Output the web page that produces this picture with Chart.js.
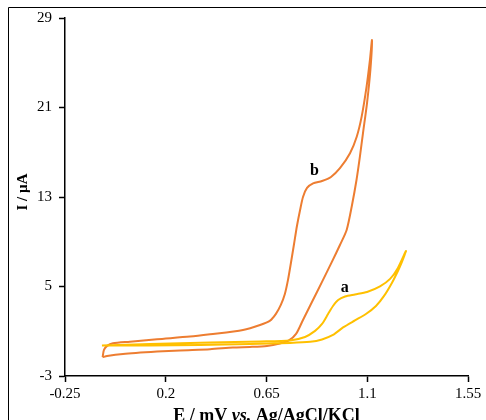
<!DOCTYPE html>
<html>
<head>
<meta charset="utf-8">
<script src="https://cdn.jsdelivr.net/npm/chart.js@4.4.3/dist/chart.umd.min.js"></script>
<style>
  html, body { margin: 0; padding: 0; background: #fff; }
  canvas { display: block; }
</style>
</head>
<body>
<canvas id="cv" width="486" height="420"></canvas>
<script>
// tick positions and labels
const xTickValues = [-0.25, 0.2, 0.65, 1.1, 1.55];
const xTickLabels = ["-0.25", "0.2", "0.65", "1.1", "1.55"];
const yTickValues = [-3, 5, 13, 21, 29];
const yTickLabels = ["-3", "5", "13", "21", "29"];

// curve a (yellow): forward scan then reverse scan, E in V, I in µA
const aPotential = [-0.085, 0.130, 0.398, 0.621, 0.755, 0.822, 0.867, 0.898, 0.925, 0.947, 0.970, 1.001, 1.045, 1.099, 1.157, 1.202, 1.237, 1.273,
  1.255, 1.237, 1.210, 1.175, 1.139, 1.094, 1.045, 0.992, 0.947, 0.898, 0.845, 0.755, 0.576, 0.353, 0.130, -0.085];
const aCurrent = [-0.27, -0.13, 0.0, 0.09, 0.18, 0.49, 1.03, 1.65, 2.54, 3.26, 3.8, 4.11, 4.29, 4.51, 5.01, 5.68, 6.66, 8.18,
  7.2, 6.39, 5.32, 4.16, 3.26, 2.54, 1.97, 1.34, 0.67, 0.27, 0.06, -0.04, -0.13, -0.22, -0.27, -0.27];

// curve b (orange)
const bPotential = [-0.082, -0.076, -0.062, -0.036, 0.040, 0.161, 0.308, 0.398, 0.545, 0.621, 0.666, 0.692, 0.714, 0.732, 0.746, 0.759, 0.773, 0.786, 0.800, 0.813, 0.831, 0.858, 0.898, 0.938, 0.978, 1.023, 1.053, 1.075, 1.097, 1.112, 1.121,
  1.114, 1.099, 1.081, 1.067, 1.052, 1.032, 1.008, 0.978, 0.942, 0.898, 0.853, 0.813, 0.782, 0.750, 0.710, 0.652, 0.576, 0.500, 0.398, 0.264, 0.161, 0.009, -0.062, -0.082];
const bCurrent = [-1.32, -0.67, -0.31, -0.07, 0.07, 0.29, 0.52, 0.73, 1.12, 1.56, 1.95, 2.55, 3.35, 4.33, 5.59, 7.1, 8.8, 10.41, 11.84, 13.0, 13.81, 14.21, 14.43, 14.79, 15.57, 16.91, 18.39, 20.18, 22.86, 25.25, 27.03,
  24.35, 21.4, 18.72, 16.58, 14.52, 12.29, 10.05, 8.71, 7.2, 5.41, 3.62, 2.01, 0.76, 0.18, -0.09, -0.31, -0.40, -0.45, -0.61, -0.71, -0.82, -1.03, -1.21, -1.32];

// curve labels: text, E, I
const curveLabels = [["a", 1.0, 4.92], ["b", 0.864, 15.37]];

const toPoints = (xs, ys) => xs.map((x, i) => ({ x: x, y: ys[i] }));

const serif = '"Liberation Serif", "Times New Roman", serif';

const overlay = {
  id: "overlay",
  afterDraw(chart) {
    const ctx = chart.ctx;
    const { left, right } = chart.chartArea;
    ctx.save();
    // outer frame (top and left edges visible)
    ctx.strokeStyle = "#000";
    ctx.lineWidth = 1;
    ctx.beginPath();
    ctx.moveTo(8.5, 420);
    ctx.lineTo(8.5, 7.5);
    ctx.lineTo(486, 7.5);
    ctx.stroke();

    ctx.fillStyle = "#000";
    // curve labels
    ctx.font = "bold 16px " + serif;
    ctx.textAlign = "center";
    ctx.textBaseline = "middle";
    curveLabels.forEach(([t, e, i]) => {
      ctx.fillText(t, chart.scales.x.getPixelForValue(e), chart.scales.y.getPixelForValue(i));
    });

    // y title
    ctx.save();
    ctx.translate(23, 192);
    ctx.rotate(-Math.PI / 2);
    ctx.font = "bold 15px " + serif;
    ctx.fillText("I / µA", 0, 0);
    ctx.restore();

    // x title with italic "vs."
    const parts = [["E / mV ", "bold 18px " + serif], ["vs.", "italic bold 18px " + serif], [" Ag/AgCl/KCl", "bold 18px " + serif]];
    let total = 0;
    parts.forEach(([t, f]) => { ctx.font = f; total += ctx.measureText(t).width; });
    let x = (left + right) / 2 - total / 2;
    ctx.textAlign = "left";
    ctx.textBaseline = "alphabetic";
    parts.forEach(([t, f]) => {
      ctx.font = f;
      ctx.fillText(t, x, 421);
      x += ctx.measureText(t).width;
    });
    ctx.restore();
  }
};

new Chart(document.getElementById("cv"), {
  type: "scatter",
  data: {
    datasets: [
      { label: "a", data: toPoints(aPotential, aCurrent), showLine: true, borderColor: "#FFC000", borderWidth: 2, pointRadius: 0, tension: 0.25 },
      { label: "b", data: toPoints(bPotential, bCurrent), showLine: true, borderColor: "#ED7D31", borderWidth: 2, pointRadius: 0, tension: 0.25 }
    ]
  },
  options: {
    responsive: false,
    animation: false,
    layout: { padding: { left: 0, top: 18, right: 18, bottom: 0 } },
    plugins: { legend: { display: false }, tooltip: { enabled: false } },
    scales: {
      x: {
        type: "linear",
        min: -0.25,
        max: 1.55,
        afterBuildTicks: (s) => { s.ticks = xTickValues.map((v) => ({ value: v })); },
        afterFit: (s) => { s.height = 44; },
        ticks: {
          callback: (v, i) => xTickLabels[i],
          color: "#000",
          font: { family: serif, size: 15 },
          padding: 3,
          maxRotation: 0
        },
        grid: { drawOnChartArea: false, drawTicks: true, tickLength: 6, tickColor: "#000", tickWidth: 1.5 },
        border: { color: "#000", width: 1.5 }
      },
      y: {
        type: "linear",
        min: -3,
        max: 29,
        afterBuildTicks: (s) => { s.ticks = yTickValues.map((v) => ({ value: v })); },
        afterFit: (s) => { s.width = 65; },
        ticks: {
          callback: (v, i) => yTickLabels[i],
          color: "#000",
          font: { family: serif, size: 15 },
          padding: 7
        },
        grid: { drawOnChartArea: false, drawTicks: true, tickLength: 6, tickColor: "#000", tickWidth: 1.5 },
        border: { color: "#000", width: 1.5 }
      }
    }
  },
  plugins: [overlay]
});
</script>
</body>
</html>
